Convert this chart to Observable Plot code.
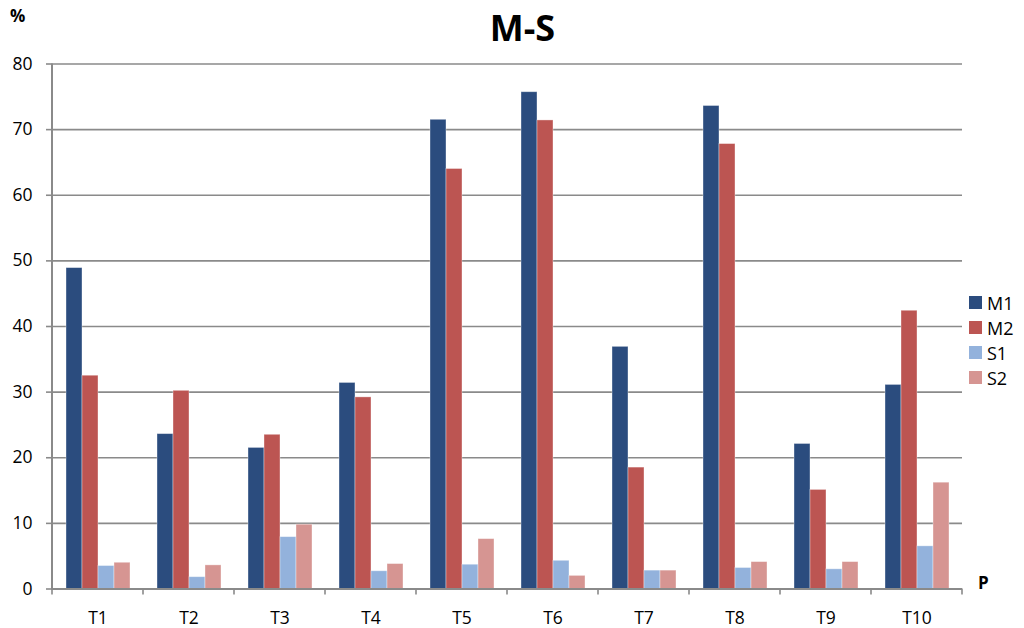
<!DOCTYPE html>
<html>
<head>
<meta charset="utf-8">
<script src="https://cdn.jsdelivr.net/npm/d3@7"></script>
<script src="https://cdn.jsdelivr.net/npm/@observablehq/plot@0.6"></script>
<style>
  html, body { margin: 0; padding: 0; background: #fff; }
  #wrap { position: relative; width: 1024px; height: 628px; font-family: "Open Sans", sans-serif; }
  #chart svg { display: block; }
  #title { position: absolute; left: 0; width: 1045px; top: 0px; text-align: center; font-weight: bold; font-size: 36px; line-height: 56px; color: #000; }
  #ylab { position: absolute; left: 10px; top: 4px; font-weight: bold; font-size: 17px; color: #000; }
  #xlab { position: absolute; left: 978px; top: 571px; font-weight: bold; font-size: 17px; color: #000; }
  #legend { position: absolute; left: 969px; top: 290px; }
  .item { display: flex; align-items: center; height: 25px; font-size: 18px; color: #000; }
  .sw { width: 13px; height: 13px; margin-right: 5px; }
</style>
</head>
<body>
<div id="wrap">
  <div id="chart"></div>
  <div id="title">M-S</div>
  <div id="ylab">%</div>
  <div id="xlab">P</div>
  <div id="legend"></div>
</div>
<script>
const categories = ["T1","T2","T3","T4","T5","T6","T7","T8","T9","T10"];
const seriesNames = ["M1","M2","S1","S2"];
const M1 = [48.9, 23.6, 21.5, 31.4, 71.5, 75.7, 36.9, 73.6, 22.1, 31.1];
const M2 = [32.5, 30.2, 23.5, 29.2, 64.0, 71.4, 18.5, 67.8, 15.1, 42.4];
const S1 = [3.5, 1.8, 7.9, 2.7, 3.7, 4.3, 2.8, 3.2, 3.0, 6.5];
const S2 = [4.0, 3.6, 9.8, 3.8, 7.6, 2.0, 2.8, 4.1, 4.1, 16.2];
const yTicks = [0, 10, 20, 30, 40, 50, 60, 70, 80];
const colors = ["#2B4C7E", "#BC5552", "#93B2DC", "#D69592"];

const seriesValues = [M1, M2, S1, S2];
const data = [];
categories.forEach((c, i) => {
  seriesNames.forEach((s, j) => data.push({cat: c, series: s, value: seriesValues[j][i]}));
});

const chart = Plot.plot({
  width: 1024,
  height: 628,
  marginLeft: 51,
  marginRight: 61.5,
  marginTop: 63.5,
  marginBottom: 39.5,
  style: {fontFamily: "Open Sans, sans-serif", fontSize: "17.5px", color: "#000", background: "#fff"},
  fx: {domain: categories, padding: 0, label: null},
  x: {domain: seriesNames, paddingInner: 0, paddingOuter: 0.74, axis: null},
  y: {domain: [0, 80], ticks: yTicks, label: null},
  color: {domain: seriesNames, range: colors},
  marks: [
    Plot.ruleY(yTicks.filter(d => d > 0), {stroke: "#8a8a8a", strokeWidth: 1.6}),
    Plot.barY(data, {fx: "cat", x: "series", y: "value", fill: "series", stroke: "#ffffff", strokeOpacity: 0.45, strokeWidth: 0.8, inset: 0}),
    Plot.ruleY([0], {stroke: "#8a8a8a", strokeWidth: 2}),
    Plot.axisY({ticks: yTicks, tickSize: 6, tickPadding: 14, stroke: "#8a8a8a", strokeWidth: 1.6, label: null, fontSize: 17.5}),
    Plot.axisFx({anchor: "bottom", tickSize: 0, tickPadding: 23, label: null, fontSize: 17.5})
  ]
});
document.getElementById("chart").appendChild(chart);

// left axis line and category boundary ticks, from the library's scales
const fx = chart.scale("fx");
const ys = chart.scale("y");
const svg = d3.select(chart);
const y0 = ys.apply(0), y80 = ys.apply(80);
const left = fx.apply(categories[0]);
const g = svg.append("g").attr("stroke", "#8a8a8a");
g.append("line").attr("x1", left).attr("x2", left).attr("y1", y80).attr("y2", y0 + 1)
  .attr("stroke-width", 2);
categories.forEach((c, i) => {
  const x = fx.apply(c);
  g.append("line").attr("x1", x).attr("x2", x).attr("y1", y0).attr("y2", y0 + 6)
    .attr("stroke-width", 1.6);
  if (i === categories.length - 1) {
    const xr = x + fx.bandwidth;
    g.append("line").attr("x1", xr).attr("x2", xr).attr("y1", y0).attr("y2", y0 + 6)
      .attr("stroke-width", 1.6);
  }
});

const legend = d3.select("#legend");
seriesNames.forEach((s, j) => {
  const it = legend.append("div").attr("class", "item");
  it.append("div").attr("class", "sw").style("background", colors[j]);
  it.append("span").text(s);
});
</script>
</body>
</html>
